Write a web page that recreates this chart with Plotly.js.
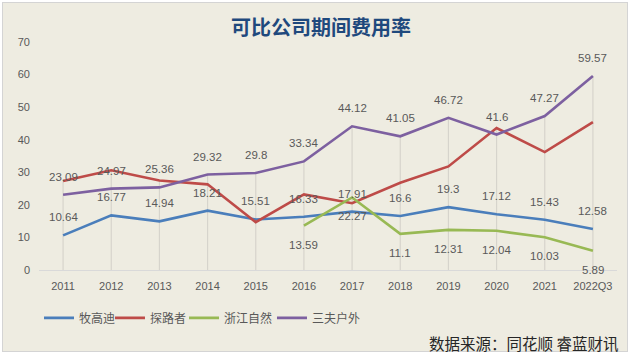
<!DOCTYPE html>
<html><head><meta charset="utf-8">
<script src="https://cdn.plot.ly/plotly-3.0.1.min.js"></script>
<style>
html,body{margin:0;padding:0;background:#ffffff;width:640px;height:354px;overflow:hidden;}
#panel{position:absolute;left:2px;top:2px;width:626px;height:350px;background:#EEECE1;box-sizing:border-box;border:1px solid #d4d4d4;}
#chart{position:absolute;left:0;top:0;width:626px;height:350px;}
</style></head>
<body>
<div id="panel"><div id="chart"></div></div>
<script>
const categories = ['2011','2012','2013','2014','2015','2016','2017','2018','2019','2020','2021','2022Q3'];
const muGaoDi = [10.64,16.77,14.94,18.21,15.51,16.33,17.91,16.6,19.3,17.12,15.43,12.58];
const tanLuZhe = [27.3,30.6,27.5,26.3,14.7,23.2,20.5,26.8,31.8,43.6,36.2,45.4];
const zheJiangZiRan = [null,null,null,null,null,13.59,22.27,11.1,12.31,12.04,10.03,5.89];
const sanFuHuWai = [23.09,24.97,25.36,29.32,29.8,33.34,44.12,41.05,46.72,41.6,47.27,59.57];
const names = ['牧高迪','探路者','浙江自然','三夫户外'];
const colors = ['#4A7EBB','#BE4B48','#98B954','#7D60A0'];
const series = [muGaoDi, tanLuZhe, zheJiangZiRan, sanFuHuWai];
const legendIds = ['legend','legend2','legend3','legend4'];
const legendX = [0, 0.1228, 0.2509, 0.4031];

// drop lines from axis to highest point of each category
const dx = [], dy = [];
categories.forEach((c,i)=>{
  const m = Math.max(...series.map(s=>s[i]==null?-Infinity:s[i]));
  dx.push(c,c,null); dy.push(0,m,null);
});
const traces = [{
  x: dx, y: dy, mode:'lines', line:{color:'#D6D4CC', width:1.2},
  hoverinfo:'skip', showlegend:false, connectgaps:false
}];
series.forEach((s,k)=>{
  traces.push({x:categories, y:s, name:names[k], mode:'lines', legend:legendIds[k],
    line:{color:colors[k], width:2.6}, connectgaps:false});
});

const annotations = [];
const labelFont = {family:'Liberation Sans, Arial, sans-serif', size:11.5, color:'#595959'};
function addLabels(s, shift){
  s.forEach((v,i)=>{ if(v!=null) annotations.push({x:i, y:v, xref:'x', yref:'y',
    text:String(v), showarrow:false, yshift:shift, font:labelFont}); });
}
addLabels(muGaoDi, 18);
addLabels(sanFuHuWai, 18);
addLabels(zheJiangZiRan, -19);
annotations.push({xref:'paper', yref:'paper', x:1.005, y:-0.32, xanchor:'right', yanchor:'middle',
  text:'数据来源：同花顺 睿蓝财讯', showarrow:false,
  font:{family:'Noto Sans CJK SC, sans-serif', size:15.5, color:'#262626'}});

const layout = {
  width:626, height:350,
  paper_bgcolor:'rgba(0,0,0,0)', plot_bgcolor:'rgba(0,0,0,0)',
  margin:{l:36, r:12, t:39, b:83},
  title:{text:'<b>可比公司期间费用率</b>', x:0.508, xanchor:'center', y:0.929, yanchor:'middle',
    font:{family:'Noto Sans CJK SC, sans-serif', size:20, color:'#1F497D'}},
  xaxis:{type:'category', range:[-0.5,11.5], showgrid:false, zeroline:false,
    showline:true, linecolor:'#D9D9D9', linewidth:1, ticks:'',
    tickfont:{family:'Liberation Sans, Arial, sans-serif', size:11, color:'#595959'}, ticklabelstandoff:6},
  yaxis:{range:[0,70], dtick:10, showgrid:false, zeroline:false, showline:false, ticks:'',
    tickfont:{family:'Liberation Sans, Arial, sans-serif', size:11, color:'#595959'}, ticklabelstandoff:8},
  showlegend:true,
  annotations: annotations,
  hovermode:false
};
legendIds.forEach((id,k)=>{
  layout[id] = {orientation:'h', x:legendX[k], xanchor:'left', y:-0.21, yanchor:'middle', itemwidth:30,
    bgcolor:'rgba(0,0,0,0)',
    font:{family:'Noto Sans CJK SC, sans-serif', size:12, color:'#595959'}};
});
Plotly.newPlot('chart', traces, layout, {displayModeBar:false, staticPlot:true});
</script>
</body></html>
